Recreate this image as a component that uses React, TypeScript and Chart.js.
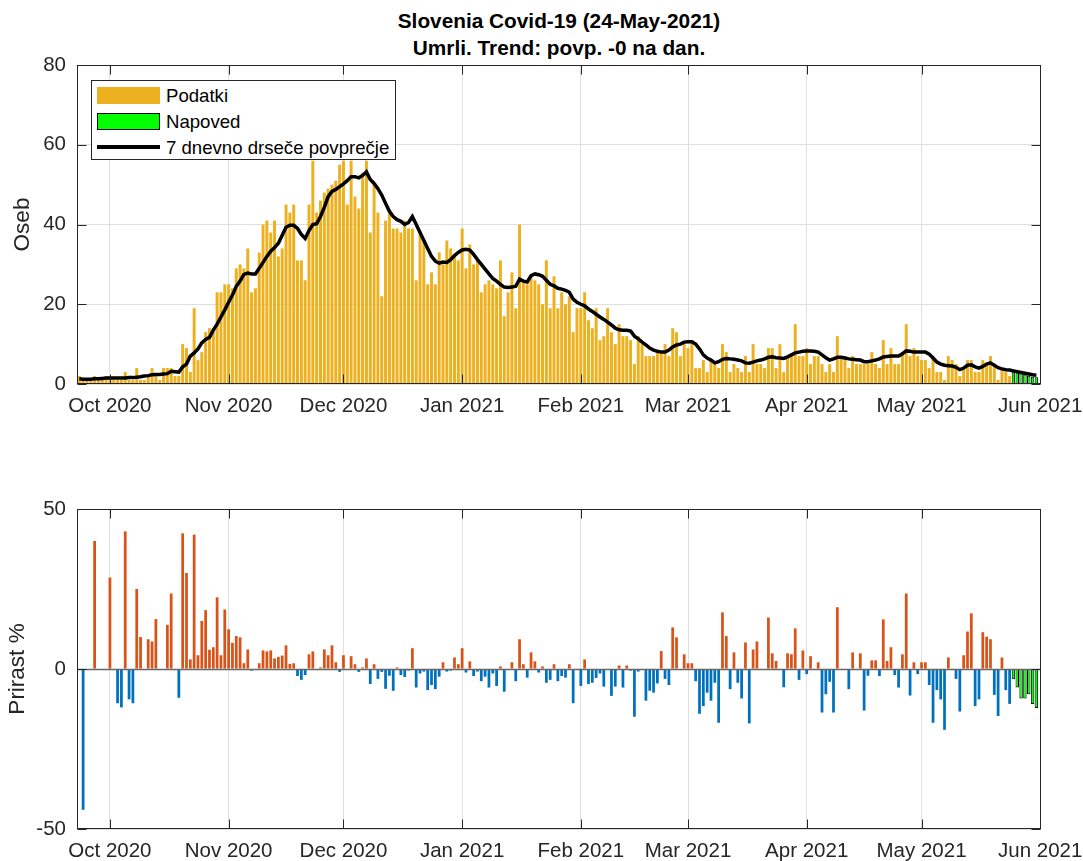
import React, { useEffect, useRef } from 'react';
import { Chart, registerables } from 'chart.js';

Chart.register(...registerables);

// Day offsets are counted from 1 Oct 2020; the data starts on 23 Sep 2020.
const FIRST_DAY_OFFSET = -8;
const monthTickDays = [0, 31, 61, 92, 123, 151, 182, 212, 243];
const monthTickLabels = ['Oct 2020', 'Nov 2020', 'Dec 2020', 'Jan 2021', 'Feb 2021', 'Mar 2021', 'Apr 2021', 'May 2021', 'Jun 2021'];
const topYTicks = [0, 20, 40, 60, 80];
const bottomYTicks = [-50, 0, 50];

// Daily deaths (Podatki), 23 Sep 2020 .. 24 May 2021
const deaths = [
  2, 1, 1, 1, 2, 1, 1, 2, 2, 1,
  1, 1, 3, 1, 1, 4, 1, 1, 2, 4,
  2, 1, 4, 4, 4, 2, 2, 10, 9, 3,
  19, 6, 8, 13, 14, 14, 23, 23, 25, 25,
  24, 29, 30, 29, 34, 23, 24, 33, 40, 41,
  38, 41, 32, 34, 45, 43, 45, 31, 31, 26,
  45, 56, 43, 46, 48, 49, 50, 51, 55, 56,
  45, 56, 47, 44, 53, 56, 38, 50, 43, 22,
  41, 43, 39, 39, 38, 41, 39, 39, 26, 38,
  36, 25, 28, 25, 33, 30, 36, 34, 32, 31,
  39, 29, 35, 30, 31, 23, 25, 26, 25, 24,
  31, 17, 23, 28, 19, 40, 26, 25, 27, 26,
  25, 20, 31, 19, 27, 19, 23, 20, 22, 13,
  19, 19, 23, 16, 14, 19, 11, 12, 19, 13,
  10, 15, 12, 12, 11, 5, 12, 10, 7, 7,
  7, 8, 8, 10, 7, 14, 13, 7, 10, 9,
  11, 4, 4, 6, 3, 6, 5, 4, 10, 8,
  3, 5, 4, 3, 7, 3, 10, 5, 5, 4,
  9, 9, 4, 10, 3, 7, 7, 15, 7, 7,
  9, 5, 7, 7, 5, 3, 5, 3, 12, 7,
  7, 4, 7, 5, 5, 5, 5, 8, 5, 4,
  11, 5, 9, 5, 5, 8, 15, 7, 9, 7,
  6, 6, 4, 7, 3, 3, 1, 7, 6, 5,
  2, 4, 6, 6, 3, 3, 6, 5, 7, 5,
  1, 4, 3, 2,
];

// Forecast (Napoved), 25 May .. 31 May 2021
const forecastDeaths = [3.0, 2.9, 2.7, 2.4, 2.1, 1.8, 1.7];

// 7-day moving average, 23 Sep 2020 .. 31 May 2021
const movingAvg = [
  1.3, 1.2, 1.2, 1.2, 1.3, 1.3, 1.4, 1.5, 1.5, 1.5,
  1.5, 1.5, 1.5, 1.6, 1.6, 1.7, 1.8, 2.0, 2.1, 2.3,
  2.4, 2.4, 2.5, 2.6, 3.2, 3.1, 3.0, 4.3, 5.0, 7.0,
  7.8, 8.8, 10.3, 11.2, 11.7, 13.5, 15.0, 16.8, 18.6, 20.5,
  22.3, 24.5, 25.8, 27.5, 27.8, 27.6, 27.6, 29.0, 30.5, 32.0,
  33.3, 34.2, 35.3, 37.3, 39.3, 39.8, 39.8, 39.0, 37.5, 36.5,
  38.5, 40.0, 40.2, 42.0, 44.3, 47.0, 48.3, 48.8, 49.5, 50.2,
  51.0, 52.0, 52.0, 51.7, 52.3, 53.2, 51.3, 50.3, 49.0, 47.4,
  45.3, 43.3, 42.0, 41.2, 40.8, 40.0, 40.5, 42.0, 40.0, 38.0,
  36.0, 34.0, 32.0, 30.8, 30.3, 30.6, 30.5, 31.2, 32.2, 33.0,
  33.6, 33.8, 33.6, 32.5, 31.2, 30.0, 28.8, 27.6, 26.5, 25.8,
  25.0, 24.3, 24.2, 24.3, 24.5, 26.3, 25.8, 25.6, 27.2, 27.6,
  27.4, 27.0, 26.0, 25.0, 24.6, 24.0, 23.8, 23.5, 23.0, 21.3,
  20.5, 20.0, 19.6, 18.8, 18.2, 17.5, 16.8, 16.2, 15.5, 14.8,
  14.0, 13.6, 13.5, 13.5, 13.3, 12.0, 11.3, 10.5, 9.8, 9.0,
  8.5, 8.2, 8.0, 8.0, 8.5, 9.3, 9.8, 10.0, 10.5, 10.6,
  10.6, 10.0, 8.8, 7.3, 6.5, 6.0, 5.3, 5.6, 6.2, 6.4,
  6.3, 6.2, 6.0, 5.8, 5.3, 5.2, 5.5, 5.8, 6.0, 6.3,
  6.7, 6.8, 6.6, 6.5, 6.4, 6.8, 7.3, 7.8, 8.0, 8.2,
  8.3, 8.3, 8.2, 8.0, 7.3, 6.6, 6.0, 6.3, 6.7, 6.7,
  6.5, 6.3, 6.2, 6.1, 6.0, 5.6, 5.6, 5.8, 6.0, 6.3,
  6.8, 6.9, 7.0, 7.0, 7.0, 7.6, 8.3, 8.2, 8.0, 8.0,
  8.0, 8.0, 7.5, 6.5, 5.5, 5.0, 4.7, 4.6, 4.5, 4.2,
  3.6, 4.0, 4.7, 4.8, 4.3, 4.0, 4.4, 5.0, 5.3, 4.7,
  4.1, 3.8, 3.6, 3.5, 3.3, 3.1, 2.9, 2.7, 2.5, 2.3,
  2.2,
];

// Prirast % (daily growth), 23 Sep 2020 .. 24 May 2021
const growthPct = [
  0, -44, 0, 0, 40, 0, 0, 0, 28.6, 0,
  -10.7, -12, 43, -9.5, -10.7, 25, 10, 0, 9.3, 8.6,
  15.6, 0, 0, 13.8, 23.6, 0, -9, 42.4, 30, 3,
  42, 4.3, 15, 18.4, 6, 6.8, 22.4, 4.3, 18.6, 12.4,
  8.2, 10.3, 9.9, 1.8, 6.1, -0.5, -0.3, 1.8, 5.8, 5.5,
  5.8, 3.3, 3.8, 4.2, 7.4, 1.6, 1.8, -2.2, -3.4, -1.9,
  4.6, 5.5, 0, 0.5, 6.1, 4.3, 7.4, 2.1, -0.9, 4.3,
  0, 4, 1.5, -0.9, 0.5, 3.3, -4.7, 1.5, -3.1, -0.9,
  -6.2, -2.1, -6.8, 0.5, -1.9, -2.5, -0.5, 6.5, -5.8, -1.4,
  -0.8, -6.6, -5, -6.3, -2.4, 2.1, -0.8, -0.5, 3.6, 1.5,
  6.5, -1.1, 2.4, -2.2, -0.8, -3.8, -2.4, -5.8, -1.4, -5.3,
  0.8, -7.1, 0, 2.1, -3.8, 9.3, 1.5, -2.7, 5.2, 2.4,
  -1.1, 0.8, -4.3, -3.4, 1.5, -3.8, -2.2, -2.7, 1.5, -10.7,
  0, -5.3, 3, -4.7, -4.3, -2.8, -1.4, -5.5, 0, -8.4,
  -5.5, 1.1, -5.8, 1.1, -0.5, -14.9, -0.8, 0, -9.9, -6.8,
  -7.4, -4.5, 5.6, -3.1, -5, 13, 9.9, 0, 4.6, 1.8,
  1.8, -3.8, -14, -11.6, -7.4, -9.9, -4.3, -16.8, 17.7, 10.3,
  -6.3, 5.2, -4.3, -9.2, 8.3, -17, 6.1, 8.6, 0, 0,
  16.1, 4.9, 2.5, 0, -5.7, 4.9, 4.6, 12.7, -3.4, 5.8,
  -1.6, 4, 0, 2.1, -13.6, -7.9, -4, -13.6, 19.3, 0,
  0, -6.3, 5.2, 0, 4.9, -13, -2.1, 2.7, 2.7, -2.2,
  15.5, 2.5, 6.8, -1.9, -5.8, 4.6, 23.6, -8.3, 2.1, -1.6,
  2.1, 2.1, -5, -16.8, -6.6, -9.5, -19, 3.6, 0, -3.1,
  -13.3, 4.3, 11.7, 17.4, -11.6, -9.5, 11.5, 10.1, 9.3, -8.1,
  -14.7, 3.6, -6.6, -10.9,
];

// Forecast growth, 25 May .. 31 May 2021
const forecastGrowthPct = [-3.2, -5.8, -9.2, -9.2, -7.9, -10.9, -12.2];

const FONT = "'Liberation Sans', Arial, Helvetica, sans-serif";
const AXIS_COLOR = '#262626';
const GRID_COLOR = '#dfdfdf';
const C_DATA = '#EDB120';
const C_FORECAST = '#00FF00';
const C_POS = '#D95319';
const C_NEG = '#0072BD';
const TICK_FONT = { family: FONT, size: 20.5 };
const LABEL_FONT = { family: FONT, size: 22.5 };

const toPoints = (arr: number[], startIndex: number) =>
  arr.map((v, i) => ({ x: FIRST_DAY_OFFSET + startIndex + i, y: v }));

const boxPlugin = {
  id: 'matlabBox',
  afterDraw(chart: any) {
    const { ctx, chartArea: a, scales } = chart;
    const L = Math.round(a.left) + 0.5;
    const R = Math.round(a.right) - 0.5;
    const T = Math.round(a.top) + 0.5;
    const B = Math.round(a.bottom) - 0.5;
    ctx.save();
    ctx.strokeStyle = AXIS_COLOR;
    ctx.lineWidth = 1;
    ctx.strokeRect(L, T, R - L, B - T);
    const tl = 9;
    ctx.beginPath();
    for (const v of monthTickDays) {
      const px = Math.round(scales.x.getPixelForValue(v)) + 0.5;
      ctx.moveTo(px, B); ctx.lineTo(px, B - tl);
      ctx.moveTo(px, T); ctx.lineTo(px, T + tl);
    }
    for (const t of scales.y.ticks) {
      const py = Math.round(scales.y.getPixelForValue(t.value)) + 0.5;
      ctx.moveTo(L, py); ctx.lineTo(L + tl, py);
      ctx.moveTo(R, py); ctx.lineTo(R - tl, py);
    }
    ctx.stroke();
    ctx.restore();
  },
};

const baselinePlugin = {
  id: 'zeroBaseline',
  afterDatasetsDraw(chart: any) {
    const { ctx, chartArea: a, scales } = chart;
    const y = Math.round(scales.y.getPixelForValue(0)) + 0.5;
    ctx.save();
    ctx.strokeStyle = '#666666';
    ctx.lineWidth = 1.5;
    ctx.beginPath();
    ctx.moveTo(a.left, y);
    ctx.lineTo(a.right, y);
    ctx.stroke();
    ctx.restore();
  },
};

function xScale(height: number) {
  return {
    type: 'linear',
    min: -8.6,
    max: 243.2,
    offset: false,
    afterBuildTicks: (s: any) => {
      s.ticks = monthTickDays.map((v) => ({ value: v }));
    },
    ticks: {
      autoSkip: false,
      maxRotation: 0,
      padding: 10,
      color: AXIS_COLOR,
      font: TICK_FONT,
      callback: (_v: any, i: number) => monthTickLabels[i],
    },
    grid: { color: GRID_COLOR, drawTicks: false, offset: false, lineWidth: 1 },
    border: { display: false },
    afterFit: (s: any) => {
      s.height = height;
      s.paddingLeft = 0;
      s.paddingRight = 0;
    },
  };
}

function yScale(min: number, max: number, ticks: number[], label: string, titlePad: number) {
  return {
    type: 'linear',
    min,
    max,
    afterBuildTicks: (s: any) => {
      s.ticks = ticks.map((v) => ({ value: v }));
    },
    ticks: { padding: 11, color: AXIS_COLOR, font: TICK_FONT },
    grid: { color: GRID_COLOR, drawTicks: false, lineWidth: 1 },
    border: { display: false },
    title: {
      display: true,
      text: label,
      color: AXIS_COLOR,
      font: LABEL_FONT,
      padding: { top: titlePad, bottom: 0 },
    },
    afterFit: (s: any) => {
      s.width = 77;
      s.paddingTop = 0;
      s.paddingBottom = 0;
    },
  };
}

export default function App() {
  const topRef = useRef<HTMLCanvasElement>(null);
  const bottomRef = useRef<HTMLCanvasElement>(null);

  useEffect(() => {
    const top = new Chart(topRef.current as HTMLCanvasElement, {
      type: 'bar',
      data: {
        datasets: [
          {
            type: 'line',
            label: '7 dnevno drseče povprečje',
            data: toPoints(movingAvg, 0),
            borderColor: '#000000',
            borderWidth: 3.5,
            pointRadius: 0,
            tension: 0,
            order: 0,
          } as any,
          {
            label: 'Podatki',
            data: toPoints(deaths, 0),
            backgroundColor: C_DATA,
            barPercentage: 0.78,
            categoryPercentage: 1,
            grouped: false,
            order: 1,
          },
          {
            label: 'Napoved',
            data: toPoints(forecastDeaths, deaths.length),
            backgroundColor: C_FORECAST,
            borderColor: '#000000',
            borderWidth: 1,
            barPercentage: 0.9,
            categoryPercentage: 1,
            grouped: false,
            order: 2,
          },
        ],
      },
      options: {
        animation: false,
        responsive: false,
        devicePixelRatio: 1,
        layout: { padding: { left: 0, right: 42, top: 10, bottom: 0 } },
        plugins: { legend: { display: false }, tooltip: { enabled: false }, title: { display: false } },
        scales: {
          x: xScale(51) as any,
          y: yScale(0, 80, topYTicks, 'Oseb', 9) as any,
        },
      },
      plugins: [boxPlugin],
    });

    const bottom = new Chart(bottomRef.current as HTMLCanvasElement, {
      type: 'bar',
      data: {
        datasets: [
          {
            label: 'Prirast %',
            data: toPoints(growthPct, 0),
            backgroundColor: (ctx: any) => ((ctx.raw && ctx.raw.y >= 0) ? C_POS : C_NEG),
            barPercentage: 0.72,
            categoryPercentage: 1,
            grouped: false,
            order: 1,
          },
          {
            label: 'Napoved',
            data: toPoints(forecastGrowthPct, growthPct.length),
            backgroundColor: C_FORECAST,
            borderColor: '#000000',
            borderWidth: 1,
            barPercentage: 0.9,
            categoryPercentage: 1,
            grouped: false,
            order: 2,
          },
        ],
      },
      options: {
        animation: false,
        responsive: false,
        devicePixelRatio: 1,
        layout: { padding: { left: 0, right: 42, top: 14, bottom: 0 } },
        plugins: { legend: { display: false }, tooltip: { enabled: false }, title: { display: false } },
        scales: {
          x: xScale(32) as any,
          y: yScale(-50, 50, bottomYTicks, 'Prirast %', 4) as any,
        },
      },
      plugins: [baselinePlugin, boxPlugin],
    });

    return () => {
      top.destroy();
      bottom.destroy();
    };
  }, []);

  const legendText: React.CSSProperties = {
    position: 'absolute',
    left: 74,
    height: 22,
    lineHeight: '22px',
    fontSize: 18.6,
    color: '#000',
    whiteSpace: 'nowrap',
  };

  return (
    <div
      style={{
        position: 'absolute',
        left: 0,
        top: 0,
        width: 1083,
        height: 861,
        background: '#ffffff',
        overflow: 'hidden',
        fontFamily: FONT,
      }}
    >
      <div
        style={{
          position: 'absolute',
          left: 77,
          top: 7,
          width: 964,
          textAlign: 'center',
          fontWeight: 'bold',
          fontSize: 20.8,
          lineHeight: '27px',
          color: '#000',
        }}
      >
        <div>Slovenia Covid-19 (24-May-2021)</div>
        <div>Umrli. Trend: povp. -0 na dan.</div>
      </div>

      <canvas
        ref={topRef}
        width={1083}
        height={380}
        style={{ position: 'absolute', left: 0, top: 55, width: 1083, height: 380 }}
      />
      <canvas
        ref={bottomRef}
        width={1083}
        height={366}
        style={{ position: 'absolute', left: 0, top: 495, width: 1083, height: 366 }}
      />

      <div
        style={{
          position: 'absolute',
          left: 91,
          top: 80,
          width: 305,
          height: 80,
          boxSizing: 'border-box',
          border: '1px solid #262626',
          background: '#ffffff',
        }}
      >
        <div style={{ position: 'absolute', left: 5, top: 6, width: 63, height: 17, background: C_DATA }} />
        <div style={{ ...legendText, top: 4 }}>Podatki</div>
        <div
          style={{
            position: 'absolute',
            left: 5,
            top: 32,
            width: 63,
            height: 17,
            background: C_FORECAST,
            boxSizing: 'border-box',
            border: '1px solid #000',
          }}
        />
        <div style={{ ...legendText, top: 30 }}>Napoved</div>
        <div style={{ position: 'absolute', left: 5, top: 64, width: 63, height: 4, background: '#000' }} />
        <div style={{ ...legendText, top: 56 }}>7 dnevno drseče povprečje</div>
      </div>
    </div>
  );
}
